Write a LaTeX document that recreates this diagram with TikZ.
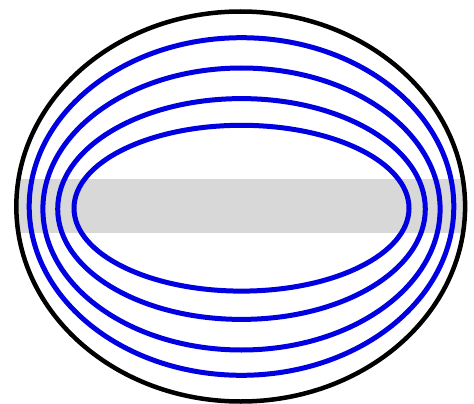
\documentclass[tikz,border=0pt]{standalone}
\usepackage{xcolor}
\usepackage{tikz}
\usetikzlibrary{calc}
\definecolor{ringblue}{RGB}{0,0,225}
\definecolor{bandgray}{RGB}{216,216,216}

\begin{document}
\begin{tikzpicture}[x=1pt, y=-1pt]
\useasboundingbox (0,0) rectangle (474,404);
\coordinate (outerc) at (240.7,206.5);
\coordinate (ringc) at (241.5,0);
% gray band, kept inside the outer ellipse
\begin{scope}
\clip (outerc) ellipse [x radius=224.4, y radius=195];
\fill[bandgray] (0,179.3) rectangle (474,232.7);
\end{scope}
% blue rings, outer to inner
\foreach \rx/\ry/\cy in {212.3/168.8/206.5, 198.6/141/209, 183.8/110.4/209, 167.5/82.9/208.2}
  \draw[ringblue, line width=5pt] ($(ringc)+(0,\cy)$) ellipse [x radius=\rx, y radius=\ry];
\draw[line width=4.5pt] (outerc) ellipse [x radius=224.4, y radius=195];
\end{tikzpicture}
\end{document}
